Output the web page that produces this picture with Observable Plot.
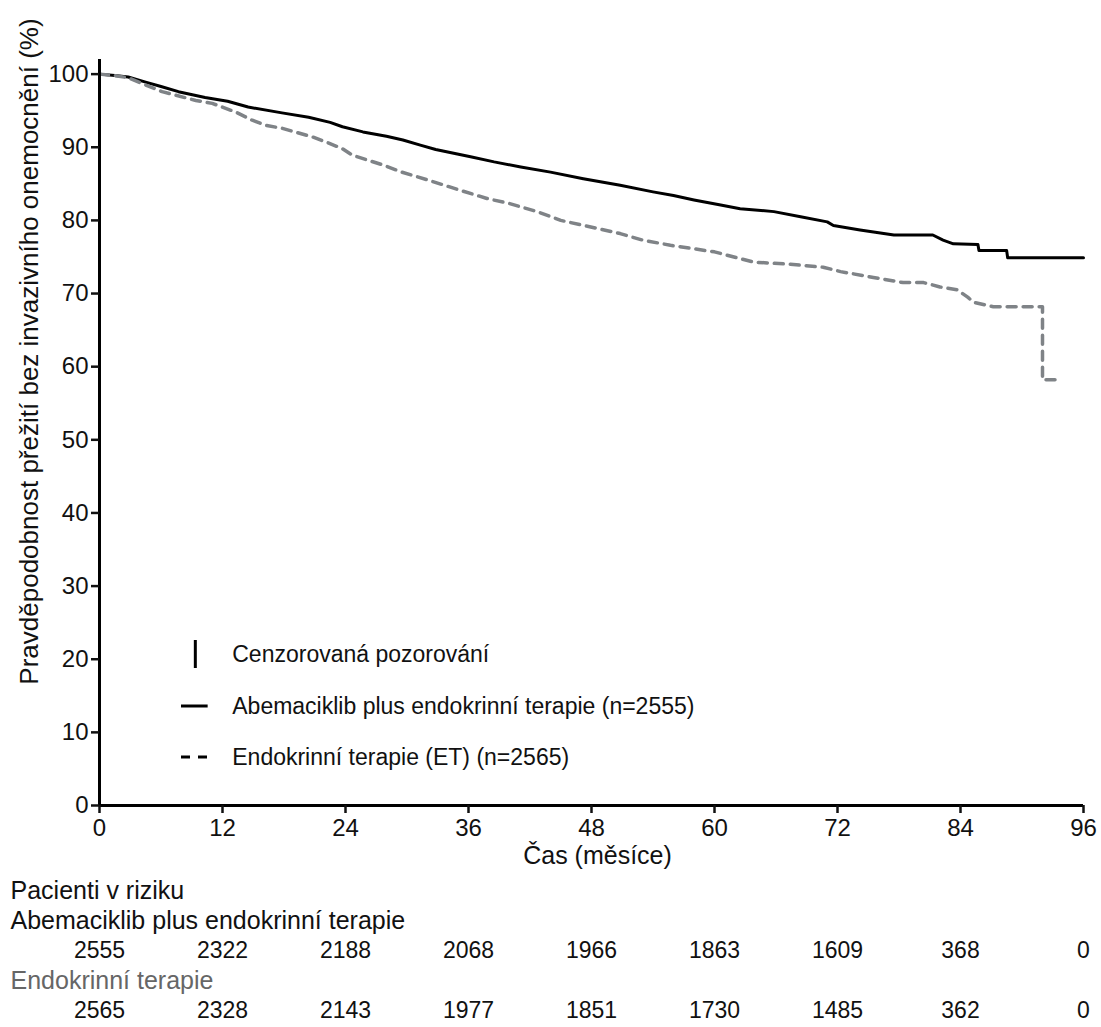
<!DOCTYPE html>
<html><head><meta charset="utf-8">
<script src="https://cdn.jsdelivr.net/npm/d3@7"></script>
<script src="https://cdn.jsdelivr.net/npm/@observablehq/plot@0.6"></script>
<style>
body{margin:0;background:#fff;font-family:"Liberation Sans",Arial,Helvetica,sans-serif;}
#wrap{position:relative;width:1101px;background:#fff;}
#wrap svg{display:block;}
.leg{position:absolute;font-size:23px;color:#111;white-space:nowrap;transform:translateY(-50%);line-height:1;}
</style></head><body><div id="wrap"></div>
<script>
// ---- data ----
const abemaMonths = [0,1.5,2.8,4.5,6,7.7,10.3,12.5,14.5,17.8,20.4,22.5,23.7,25.7,28,29.6,31.3,32.8,36.2,38.5,41.1,44,47.2,50.8,54,56,58,60.6,62.5,65.8,68.4,71,71.6,74.2,77.5,81.3,82.3,83.3,85.7,85.8,88.5,88.6,96];
const abemaSurv   = [100,99.8,99.6,98.9,98.3,97.6,96.8,96.3,95.5,94.7,94.1,93.4,92.8,92.1,91.5,91.0,90.3,89.7,88.7,88.0,87.3,86.6,85.7,84.8,83.9,83.4,82.8,82.1,81.6,81.2,80.5,79.8,79.3,78.7,78.0,78.0,77.3,76.8,76.7,75.9,75.9,74.9,74.9];
const etMonths = [0,1.5,2.8,6.1,9.4,11,13.3,14.9,16.2,17.8,20.8,22.3,23.7,24.7,27.6,29.5,32.1,35,37.8,40,42.7,45,47.6,50.8,53,55.7,60,63.8,67.4,70.6,72.3,75.5,78.4,80.4,82,83.7,84.7,85.3,87.2,92,92,93.8];
const etSurv   = [100,99.8,99.5,97.6,96.4,96.0,94.8,93.7,93.0,92.6,91.4,90.6,89.8,88.9,87.6,86.6,85.5,84.2,83.0,82.3,81.2,80.0,79.2,78.2,77.3,76.6,75.7,74.3,74.0,73.6,73.0,72.2,71.5,71.5,70.9,70.5,69.5,68.8,68.2,68.2,58.2,58.2];

const xTicks = [0,12,24,36,48,60,72,84,96];
const yTicks = [0,10,20,30,40,50,60,70,80,90,100];
const yTitle = "Pravděpodobnost přežití bez invazivního onemocnění (%)";
const xTitle = "Čas (měsíce)";

const legendLabels = ["Cenzorovaná pozorování","Abemaciklib plus endokrinní terapie (n=2555)","Endokrinní terapie (ET) (n=2565)"];

const riskTimes = [0,12,24,36,48,60,72,84,96];
const riskAbema = [2555,2322,2188,2068,1966,1863,1609,368,0];
const riskET    = [2565,2328,2143,1977,1851,1730,1485,362,0];
const riskTitle = "Pacienti v riziku";
const groupAbema = "Abemaciklib plus endokrinní terapie";
const groupET = "Endokrinní terapie";

// ---- build ----
const abema = abemaMonths.map((t,i)=>({t, s: abemaSurv[i]}));
const et = etMonths.map((t,i)=>({t, s: etSurv[i]}));
const font = '"Liberation Sans", Arial, Helvetica, sans-serif';

const main = Plot.plot({
  width: 1101, height: 875,
  marginLeft: 99, marginRight: 18, marginTop: 59, marginBottom: 70,
  x: {domain: [0, 96]},
  y: {domain: [0, 102]},
  style: {fontFamily: font, fontSize: "24px", color: "#111", background: "#fff"},
  marks: [
    Plot.line(abema, {x: "t", y: "s", stroke: "#000", strokeWidth: 3}),
    Plot.line(et, {x: "t", y: "s", stroke: "#7f8387", strokeWidth: 3.5, strokeDasharray: "9,7"}),
    Plot.ruleX([0], {stroke: "#000", strokeWidth: 3}),
    Plot.ruleY([0], {stroke: "#000", strokeWidth: 3}),
    Plot.axisY({ticks: yTicks, tickSize: 8, tickPadding: 3, strokeWidth: 2.5, label: null, fontSize: 24}),
    Plot.axisX({ticks: xTicks, tickSize: 8, tickPadding: 5, strokeWidth: 2.5, label: null, fontSize: 24}),
    Plot.text([yTitle], {text: d => d, frameAnchor: "left", textAnchor: "middle", rotate: -90, dx: -70, dy: -81, fontSize: 26}),
    Plot.text([xTitle], {text: d => d, frameAnchor: "bottom", dy: 58, dx: 6, fontSize: 25})
  ]
});

const rowKeys = ["title","gA","nA","gE","nE"];
const headings = [
  {row: "title", label: riskTitle, color: "#111"},
  {row: "gA", label: groupAbema, color: "#111"},
  {row: "gE", label: groupET, color: "#666"}
];
const riskRows = [
  ...riskTimes.map((t,i)=>({t, row: "nA", n: riskAbema[i]})),
  ...riskTimes.map((t,i)=>({t, row: "nE", n: riskET[i]}))
];
const risk = Plot.plot({
  width: 1101, height: 152,
  marginLeft: 99, marginRight: 18, marginTop: 0, marginBottom: 0,
  x: {domain: [0, 96], axis: null},
  y: {type: "point", domain: rowKeys, range: [13, 136], padding: 0, axis: null},
  style: {fontFamily: font, fontSize: "24px", color: "#111", background: "#fff"},
  marks: [
    Plot.text(headings, {y: "row", text: "label", fill: "color", frameAnchor: "left", textAnchor: "start", dx: -89, fontSize: 25}),
    Plot.text(riskRows, {x: "t", y: "row", text: d => String(d.n), fill: "#111", fontSize: 23})
  ]
});

const wrap = document.getElementById("wrap");
wrap.appendChild(main);
wrap.appendChild(risk);

// legend (HTML overlay positioned via the chart's scales)
const xs = main.scale("x"), ys = main.scale("y");
const legY = [20.7, 13.5, 6.6];
const swX0 = xs.apply(8), swX1 = xs.apply(10.6), txX = xs.apply(13);
function add(html){ const d=document.createElement("div"); d.innerHTML=html; const e=d.firstChild; wrap.appendChild(e); return e; }
legendLabels.forEach((lab,i)=>{
  const y = ys.apply(legY[i]);
  const t = add(`<div class="leg"></div>`);
  t.textContent = lab; t.style.left = txX + "px"; t.style.top = y + "px";
  let sw;
  if (i === 0) sw = `<svg width="30" height="30" style="position:absolute;left:${swX0}px;top:${y-15}px"><line x1="${(swX1-swX0)/2+1}" x2="${(swX1-swX0)/2+1}" y1="1" y2="29" stroke="#000" stroke-width="3"/></svg>`;
  else if (i === 1) sw = `<svg width="30" height="10" style="position:absolute;left:${swX0}px;top:${y-5}px"><line x1="0" x2="${swX1-swX0}" y1="5" y2="5" stroke="#000" stroke-width="3"/></svg>`;
  else sw = `<svg width="30" height="10" style="position:absolute;left:${swX0}px;top:${y-5}px"><line x1="0" x2="${swX1-swX0}" y1="5" y2="5" stroke="#000" stroke-width="3" stroke-dasharray="9,8"/></svg>`;
  add(sw);
});
</script></body></html>
